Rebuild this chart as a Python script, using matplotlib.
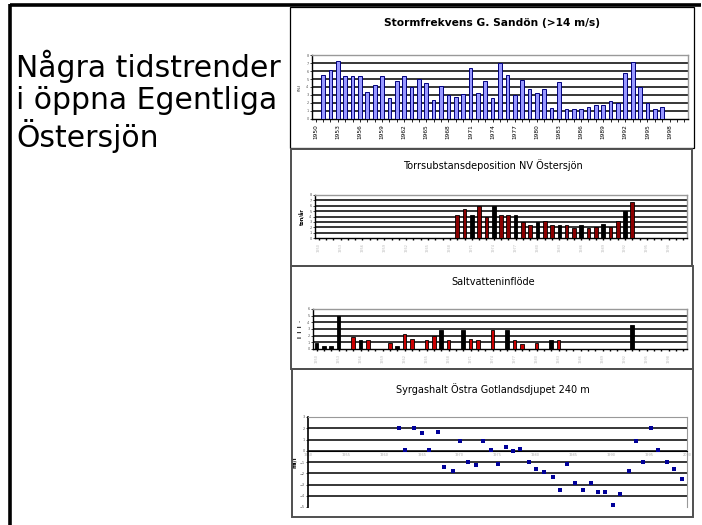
import matplotlib
matplotlib.use("Agg")
import matplotlib.pyplot as plt
from matplotlib.patches import Rectangle
from matplotlib.lines import Line2D

# ---------------- data ----------------
storm_years = list(range(1951, 1998))
storm_pct = [5.5, 6.1, 7.2, 5.4, 5.4, 5.4, 3.4, 4.2, 5.4, 2.6,
             4.7, 5.4, 4.0, 5.0, 4.5, 2.4, 4.15, 3.05, 2.8, 3.1,
             6.4, 3.25, 4.7, 2.6, 7.0, 5.5, 2.95, 4.85, 3.7, 3.3,
             3.75, 1.4, 4.65, 1.3, 1.2, 1.3, 1.45, 1.7, 1.8, 2.25,
             2.0, 5.7, 7.1, 4.05, 2.05, 1.2, 1.5]
storm_tick_years = [1950, 1953, 1956, 1959, 1962, 1965, 1968, 1971, 1974, 1977,
                    1980, 1983, 1986, 1989, 1992, 1995, 1998]

dep_years = list(range(1969, 1994))
dep_values = [4.3, 5.4, 4.3, 5.9, 3.9, 5.9, 4.3, 4.3, 4.3, 3.0,
              2.5, 3.0, 3.2, 2.5, 2.5, 2.4, 1.8, 2.5, 1.8, 2.0,
              2.6, 2.0, 3.2, 5.0, 6.7]

salt_years = [1950, 1951, 1952, 1953, 1955, 1956, 1957, 1960, 1961, 1962,
              1963, 1965, 1966, 1967, 1968, 1970, 1971, 1972, 1974, 1976,
              1977, 1978, 1980, 1982, 1983, 1993]
salt_values = [0.9, 0.4, 0.4, 4.9, 1.8, 1.4, 1.4, 0.9, 0.4, 2.3,
               1.5, 1.4, 1.9, 2.9, 1.4, 2.9, 1.5, 1.3, 2.8, 2.9,
               1.4, 0.8, 0.9, 1.4, 1.4, 3.65]
salt_black_years = [1950, 1951, 1952, 1953, 1956, 1961, 1967, 1970, 1976, 1982, 1993]

oxy_years = [1962, 1962.8, 1964, 1965, 1965.9, 1967.1, 1968, 1969.1, 1970.1, 1971.1,
             1972.1, 1973.1, 1974.1, 1975.1, 1976.1, 1977.1, 1978, 1979.1, 1980.1, 1981.2,
             1982.3, 1983.2, 1984.2, 1985.2, 1986.3, 1987.3, 1988.2, 1989.2, 1990.3, 1991.2,
             1992.3, 1993.3, 1994.2, 1995.3, 1996.2, 1997.3, 1998.3, 1999.3]
oxy_values = [2.0, 0.1, 2.0, 1.6, 0.1, 1.7, -1.4, -1.8, 0.9, -1.0,
              -1.3, 0.9, 0.1, -1.2, 0.3, -0.05, 0.2, -1.0, -1.6, -1.85,
              -2.3, -3.5, -1.2, -2.9, -3.5, -2.9, -3.7, -3.7, -4.8, -3.8,
              -1.8, 0.9, -1.0, 2.0, 0.1, -1.0, -1.6, -2.5]
oxy_tick_years = [1950, 1955, 1960, 1965, 1970, 1975, 1980, 1985, 1990, 1995, 2000]

# ---------------- layout helpers ----------------
W, H = 702, 525
fig = plt.figure(figsize=(W / 100, H / 100), dpi=100)
fig.patch.set_facecolor("white")


def rect(x0, y0, x1, y1):
    return [x0 / W, 1 - y1 / H, (x1 - x0) / W, (y1 - y0) / H]


def fx(x):
    return x / W


def fy(y):
    return 1 - y / H


def box(x0, y0, x1, y1, color, lw):
    fig.add_artist(Rectangle((fx(x0), fy(y1)), (x1 - x0) / W, (y1 - y0) / H,
                             transform=fig.transFigure, fill=False,
                             edgecolor=color, linewidth=lw, zorder=5))


def line(x0, y0, x1, y1, lw, color="black"):
    fig.add_artist(Line2D([fx(x0), fx(x1)], [fy(y0), fy(y1)],
                          transform=fig.transFigure, color=color, linewidth=lw,
                          solid_capstyle="butt", zorder=6))


# outer frame
line(10, 5, 701, 5, 2.6)
line(10, 4, 10, 525, 2.6)

# left heading
fig.text(fx(16), fy(50), "Några tidstrender\ni öppna Egentliga\nÖstersjön",
         fontsize=21.5, family="DejaVu Sans", va="top", ha="left",
         linespacing=1.13)

# panel boxes
box(290, 7, 694, 148, "black", 0.9)
box(291, 149, 692, 266, "#505050", 1.4)
box(291, 266, 693, 369, "#505050", 1.4)
box(292, 369, 693, 517, "#505050", 1.4)


def style_bar_axes(ax, ymax, xlo, xhi):
    ax.set_xlim(xlo, xhi)
    ax.set_ylim(0, ymax)
    for y in range(1, ymax):
        ax.axhline(y, color="black", linewidth=1.1, zorder=1)
    ax.spines["top"].set_color("#999999")
    ax.spines["right"].set_color("#999999")
    ax.spines["left"].set_color("black")
    ax.spines["bottom"].set_color("black")
    for s in ax.spines.values():
        s.set_linewidth(1.0)
    ax.set_yticks(range(0, ymax + 1))
    ax.tick_params(axis="y", labelsize=2.5, length=1.5, width=0.5, pad=1,
                   labelcolor="#555555")
    ax.set_facecolor("white")


# ---------------- panel 1: storm frequency ----------------
fig.text(fx(492), fy(23), "Stormfrekvens G. Sandön (>14 m/s)", fontsize=7.7,
         fontweight="bold", ha="center", va="center", family="DejaVu Sans")
ax1 = fig.add_axes(rect(312, 55, 688, 119))
style_bar_axes(ax1, 8, 1949.5, 2000.5)
ax1.bar(storm_years, storm_pct, width=0.5, color="#9999ff",
        edgecolor="#000080", linewidth=0.7, zorder=3)
ax1.set_xticks(range(1950, 2001), minor=True)
ax1.set_xticks(storm_tick_years)
ax1.set_xticklabels([str(y) for y in storm_tick_years], rotation=90,
                    fontsize=4.2)
ax1.tick_params(axis="x", which="both", length=2, width=0.6, pad=1.5)
ax1.set_ylabel("(%)", fontsize=3, labelpad=3)

# ---------------- panel 2: deposition ----------------
fig.text(fx(493), fy(165), "Torrsubstansdeposition NV Östersjön", fontsize=7,
         ha="center", va="center", family="DejaVu Sans")
ax2 = fig.add_axes(rect(315, 195, 687, 238))
style_bar_axes(ax2, 8, 1949.5, 2000.5)
dep_colors = ["black" if i % 3 == 2 else "#8b0000" for i in range(len(dep_years))]
ax2.bar(dep_years, dep_values, width=0.5, color=dep_colors,
        edgecolor="black", linewidth=0.6, zorder=3)
ax2.set_xticks(range(1950, 2001), minor=True)
ax2.set_xticks(storm_tick_years)
ax2.set_xticklabels([str(y) for y in storm_tick_years], rotation=90,
                    fontsize=2.5, color="#bbbbbb")
ax2.tick_params(axis="x", which="both", length=1.5, width=1.0, pad=2)
ax2.set_ylabel("ton/år", fontsize=3.5, labelpad=3, fontweight="bold")

# ---------------- panel 3: salt water inflow ----------------
fig.text(fx(493), fy(282), "Saltvatteninflöde", fontsize=7,
         ha="center", va="center", family="DejaVu Sans")
ax3 = fig.add_axes(rect(313, 309, 687, 349))
style_bar_axes(ax3, 6, 1949.5, 2000.5)
salt_colors = ["black" if y in salt_black_years else "#cc0000" for y in salt_years]
ax3.bar(salt_years, salt_values, width=0.5, color=salt_colors,
        edgecolor="black", linewidth=0.6, zorder=3)
ax3.set_xticks(range(1950, 2001), minor=True)
ax3.set_xticks(storm_tick_years)
ax3.set_xticklabels([str(y) for y in storm_tick_years], rotation=90,
                    fontsize=2.5, color="#bbbbbb")
ax3.tick_params(axis="x", which="both", length=1.5, width=1.0, pad=2)
ax3.set_ylabel("I  I  I  ·", fontsize=3.5, labelpad=3, fontweight="bold")

# ---------------- panel 4: oxygen ----------------
fig.text(fx(493), fy(389), "Syrgashalt Östra Gotlandsdjupet 240 m", fontsize=7,
         ha="center", va="center", family="DejaVu Sans")
ax4 = fig.add_axes(rect(308, 417, 687, 507))
ax4.set_xlim(1950, 2000)
ax4.set_ylim(-5, 3)
for y in range(-4, 3):
    ax4.axhline(y, color="black", linewidth=1.1, zorder=1)
ax4.spines["top"].set_color("#999999")
ax4.spines["right"].set_color("#999999")
ax4.spines["left"].set_color("black")
ax4.spines["left"].set_linewidth(1.2)
ax4.spines["bottom"].set_position(("data", 0))
ax4.spines["bottom"].set_color("black")
ax4.set_yticks(range(-5, 4))
ax4.tick_params(axis="y", labelsize=2.5, length=1.5, width=0.5, pad=1,
                labelcolor="#555555")
ax4.set_xticks(oxy_tick_years)
ax4.set_xticklabels([str(y) for y in oxy_tick_years], fontsize=2.5,
                    color="#aaaaaa")
ax4.tick_params(axis="x", length=0, pad=1.5)
ax4.scatter(oxy_years, oxy_values, marker="s", s=5, color="#000099",
            linewidths=0, zorder=3)
ax4.set_ylabel("ml/l", fontsize=4, labelpad=2, fontweight="bold")

fig.savefig("out.png", dpi=100, facecolor="white")
